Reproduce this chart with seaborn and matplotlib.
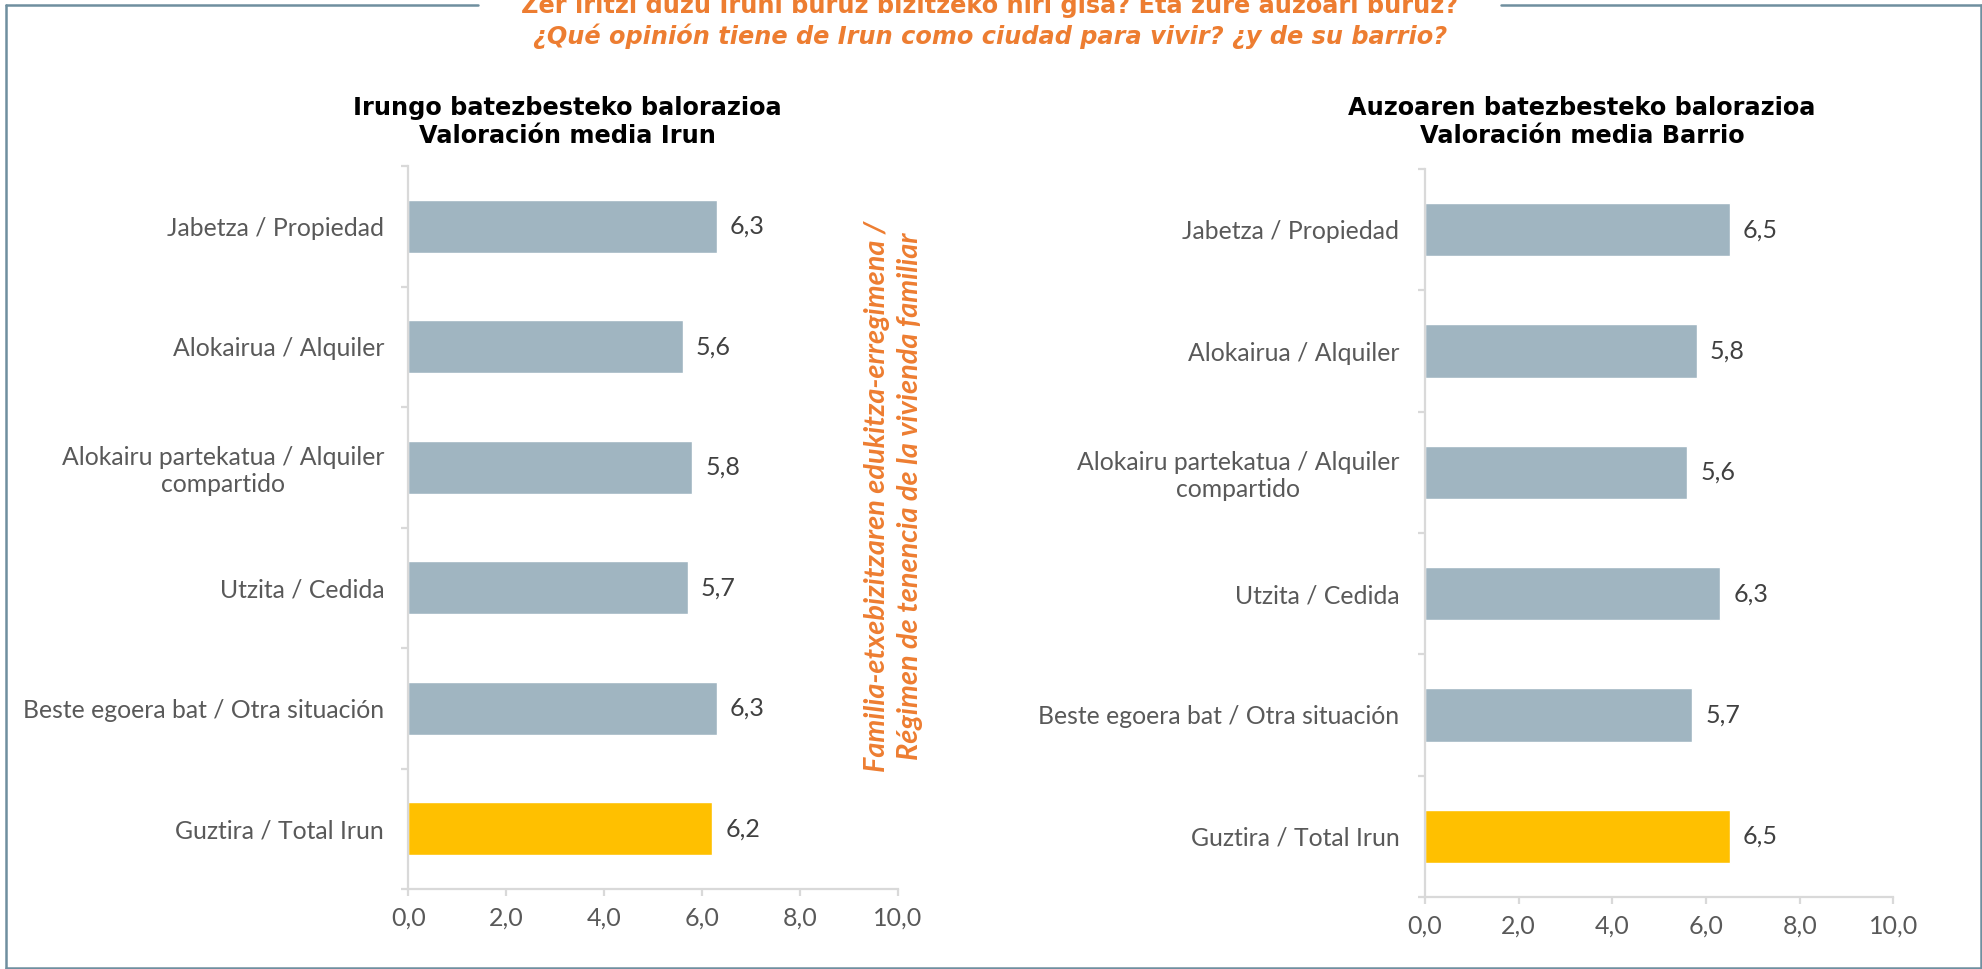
import matplotlib
matplotlib.use("Agg")
import matplotlib.pyplot as plt
from matplotlib.lines import Line2D
from matplotlib.ticker import FixedLocator, FuncFormatter
import seaborn as sns
import pandas as pd

# --- data -----------------------------------------------------------------
categories = [
    "Jabetza / Propiedad",
    "Alokairua / Alquiler",
    "Alokairu partekatua / Alquiler\ncompartido",
    "Utzita / Cedida",
    "Beste egoera bat / Otra situación",
    "Guztira / Total Irun",
]
irun_values = [6.3, 5.6, 5.8, 5.7, 6.3, 6.2]
barrio_values = [6.5, 5.8, 5.6, 6.3, 5.7, 6.5]
x_ticks = [0, 2, 4, 6, 8, 10]

title_irun = "Irungo batezbesteko balorazioa\nValoración media Irun"
title_barrio = "Auzoaren batezbesteko balorazioa\nValoración media Barrio"
main_title_eu = "Zer iritzi duzu Iruni buruz bizitzeko hiri gisa? Eta zure auzoari buruz?"
main_title_es = "¿Qué opinión tiene de Irun como ciudad para vivir? ¿y de su barrio?"
side_label_eu = "Familia-etxebizitzaren edukitza-erregimena /"
side_label_es = "Régimen de tenencia de la vivienda familiar"

# --- style ----------------------------------------------------------------
sns.set_theme(style="white")
plt.rcParams["font.family"] = ["Lato", "DejaVu Sans"]

BAR = "#A0B5C1"
TOTAL = "#FFC000"
ORANGE = "#ED7D31"
AXIS = "#D9D9D9"
LABEL = "#595959"
VALUE = "#404040"
FRAME = "#6F8F9F"
palette = [BAR] * (len(categories) - 1) + [TOTAL]

W, H = 1983, 969
fig = plt.figure(figsize=(W / 100, H / 100), dpi=100)


def px_rect(x0, x1, ytop, ybot):
    return [x0 / W, 1 - ybot / H, (x1 - x0) / W, (ybot - ytop) / H]


def draw_panel(ax, values, label_pad):
    df = pd.DataFrame({"cat": categories, "val": values})
    sns.barplot(data=df, x="val", y="cat", hue="cat", palette=palette,
                orient="h", width=0.44, legend=False, ax=ax, saturation=1)
    ax.set_xlim(0, 10)
    ax.set_ylim(len(categories) - 0.5, -0.5)
    ax.set_xlabel("")
    ax.set_ylabel("")
    for s in ("top", "right"):
        ax.spines[s].set_visible(False)
    for s in ("left", "bottom"):
        ax.spines[s].set_color(AXIS)
        ax.spines[s].set_linewidth(1.6)

    ax.xaxis.set_major_locator(FixedLocator(x_ticks))
    ax.xaxis.set_major_formatter(FuncFormatter(lambda v, p: f"{v:.1f}".replace(".", ",")))
    ax.tick_params(axis="x", which="major", direction="out", length=5,
                   width=1.6, color=AXIS, labelsize=18, labelcolor=LABEL, pad=8,
                   bottom=True)
    ax.yaxis.set_minor_locator(FixedLocator([i - 0.5 for i in range(len(categories) + 1)]))
    ax.tick_params(axis="y", which="major", length=0, labelsize=17.8,
                   labelcolor=LABEL, pad=label_pad, left=True)
    ax.tick_params(axis="y", which="minor", direction="out", length=5,
                   width=1.6, color=AXIS, left=True)
    for t in ax.get_yticklabels():
        t.set_multialignment("center")

    for i, v in enumerate(values):
        ax.annotate(f"{v:.1f}".replace(".", ","), xy=(v, i), xytext=(9.5, 0),
                    textcoords="offset points", ha="left", va="center",
                    fontsize=18, color=VALUE)


ax1 = fig.add_axes(px_rect(408.5, 898, 166, 889))
draw_panel(ax1, irun_values, 17.5)
ax2 = fig.add_axes(px_rect(1425, 1893.5, 169, 897))
draw_panel(ax2, barrio_values, 18.5)

# panel headings, centred over each chart area
for xpx, txt in ((567, title_irun), (1582, title_barrio)):
    fig.text(xpx / W, 1 - 122 / H, txt, ha="center", va="center",
             fontsize=17.3, fontweight="bold", color="black",
             family="DejaVu Sans", linespacing=1.25)

# vertical group label between the panels
for xpx, txt in ((877.5, side_label_eu), (910.5, side_label_es)):
    fig.text(xpx / W, 1 - 496 / H, txt, rotation=90, ha="center", va="center",
             rotation_mode="anchor", fontsize=20.8, fontweight="bold",
             fontstyle="italic", color=ORANGE)

# main heading, sitting in the gap of the frame
fig.text(990 / W, 1 - 13 / H, main_title_eu, ha="center", va="baseline",
         fontsize=17.3, fontweight="bold", color=ORANGE, family="DejaVu Sans")
fig.text(990 / W, 1 - 44 / H, main_title_es, ha="center", va="baseline",
         fontsize=17.3, fontweight="bold", fontstyle="italic", color=ORANGE,
         family="DejaVu Sans")

# frame around the figure with an opening for the heading
frame_lines = [
    ((6, 478), (5, 5)),
    ((1501, 1981), (5, 5)),
    ((6, 6), (5, 968)),
    ((1981, 1981), (5, 968)),
    ((6, 1981), (968, 968)),
]
for xs, ys in frame_lines:
    fig.add_artist(Line2D([x / W for x in xs], [1 - y / H for y in ys],
                          color=FRAME, linewidth=1.8, transform=fig.transFigure))

fig.savefig("out.png", dpi=100, facecolor="white")
